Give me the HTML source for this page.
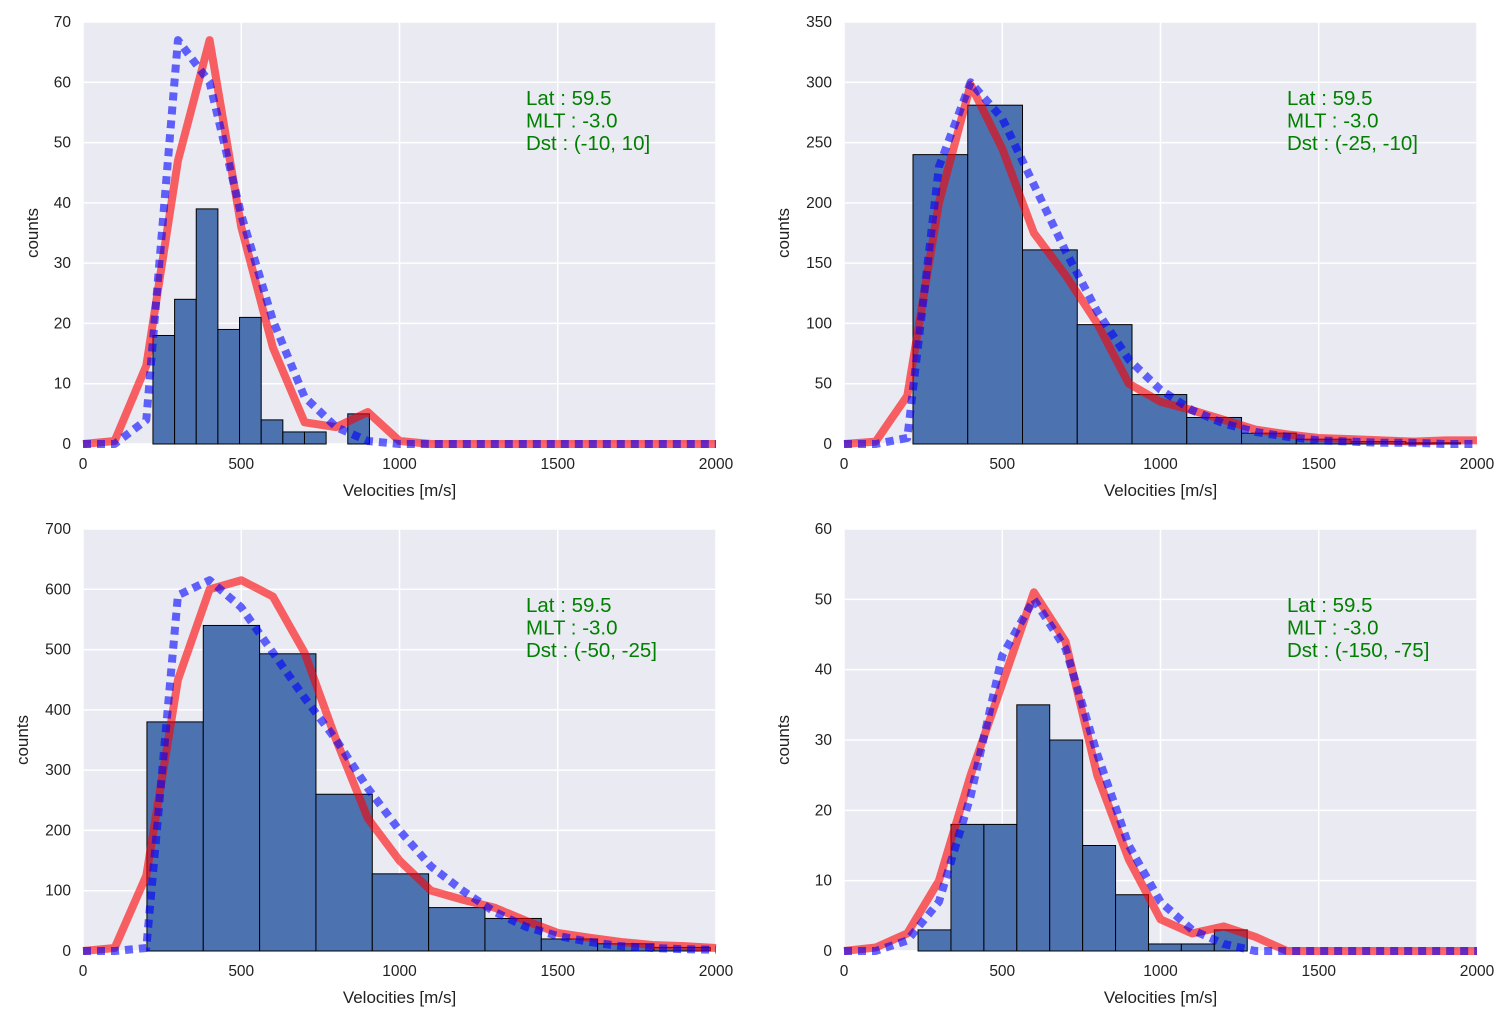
<!DOCTYPE html>
<html><head><meta charset="utf-8"><style>
body{margin:0;background:#fff;}
svg{display:block;font-family:"Liberation Sans",sans-serif;}
</style></head><body>
<svg id="c" width="1511" height="1023"></svg>
<script>
const xs=[0,100,200,300,400,500,600,700,800,900,1000,1100,1200,1300,1400,1500,1600,1700,1800,1900,2000];
const tlBinStart=221, tlBinWidth=68.4;
const tlCounts=[18,24,39,19,21,4,2,2,0,5];
const tlRed=[0,0.5,13,47,67,36,16,3.6,2.8,5.3,0.5,0,0,0,0,0,0,0,0,0,0];
const tlBlue=[0,0,4,67,60,38,20.5,7.8,2.8,0.5,0,0,0,0,0,0,0,0,0,0,0];
const trBinStart=218, trBinWidth=173;
const trCounts=[240,281,161,99,41,22,9,4,2,1];
const trRed=[0,2,40,200,298,245,175,140,100,50,35,28,20,12,8,5,4,3,2,3,3];
const trBlue=[0,0,5,230,300,270,215,160,110,70,45,28,17,10,6,3,2,1,1,0,0];
const blBinStart=202, blBinWidth=178;
const blCounts=[380,540,493,260,128,72,54,20,12,6];
const blRed=[0,5,125,450,600,615,588,495,350,220,150,100,85,72,50,30,22,15,10,8,5];
const blBlue=[0,0,5,590,615,570,495,420,350,270,200,140,100,65,40,25,15,8,5,3,2];
const brBinStart=234, brBinWidth=104;
const brCounts=[3,18,18,35,30,15,8,1,1,3];
const brRed=[0,0.5,2.5,10,25,38,51,44,25,13,4.5,2.5,3.5,2,0,0,0,0,0,0,0];
const brBlue=[0,0,1.5,7,22,42,50,43,28,15,7,3,1,0,0,0,0,0,0,0,0];
const xTicks=[0,500,1000,1500,2000];
const tlYTicks=[0,10,20,30,40,50,60,70];
const trYTicks=[0,50,100,150,200,250,300,350];
const blYTicks=[0,100,200,300,400,500,600,700];
const brYTicks=[0,10,20,30,40,50,60];
const dstLabels=["(-10, 10]","(-25, -10]","(-50, -25]","(-150, -75]"];

const NS="http://www.w3.org/2000/svg";
const svg=document.getElementById('c');
function mk(tag,attrs,parent){const e=document.createElementNS(NS,tag);for(const k in attrs)e.setAttribute(k,attrs[k]);(parent||svg).appendChild(e);return e;}

const panels=[
 {x0:83,y0:22,y1:444,ymax:70,bs:tlBinStart,bw:tlBinWidth,counts:tlCounts,red:tlRed,blue:tlBlue,yt:tlYTicks,ylx:38,tx:526,name:'top-left'},
 {x0:844,y0:22,y1:444,ymax:350,bs:trBinStart,bw:trBinWidth,counts:trCounts,red:trRed,blue:trBlue,yt:trYTicks,ylx:789,tx:1287,name:'top-right'},
 {x0:83,y0:529,y1:951,ymax:700,bs:blBinStart,bw:blBinWidth,counts:blCounts,red:blRed,blue:blBlue,yt:blYTicks,ylx:28,tx:526,name:'bottom-left'},
 {x0:844,y0:529,y1:951,ymax:60,bs:brBinStart,bw:brBinWidth,counts:brCounts,red:brRed,blue:brBlue,yt:brYTicks,ylx:789,tx:1287,name:'bottom-right'}
];
panels.forEach((p,pi)=>{
 const W=633;
 const X=v=>p.x0+v/2000*W;
 const Y=v=>p.y1-v/p.ymax*(p.y1-p.y0);
 const g=mk('g',{});
 
 
 const bg=mk('rect',{x:p.x0,y:p.y0,width:W,height:p.y1-p.y0,fill:'#EAEAF2'},g);
 
 
 xTicks.forEach(t=>{
  const l=mk('line',{x1:X(t),x2:X(t),y1:p.y0,y2:p.y1,stroke:'#fff','stroke-width':1.5},g);
  
  
  const tx=mk('text',{x:X(t),y:p.y1+25,'text-anchor':'middle','font-size':15.5,fill:'#222'},g);
  tx.textContent=t;
  
  
 });
 p.yt.forEach(t=>{
  const l=mk('line',{x1:p.x0,x2:p.x0+W,y1:Y(t),y2:Y(t),stroke:'#fff','stroke-width':1.5},g);
  
  
  const tx=mk('text',{x:p.x0-12,y:Y(t)+5,'text-anchor':'end','font-size':15.5,fill:'#222'},g);
  tx.textContent=t;
  
  
 });
 p.counts.forEach((c,i)=>{
  if(c<=0)return;
  const a=p.bs+i*p.bw;
  const r=mk('rect',{x:X(a),y:Y(c),width:X(a+p.bw)-X(a),height:p.y1-Y(c),fill:'#4C72B0',stroke:'#000','stroke-width':1},g);
  
  
 });
 const rp=xs.map((x,i)=>X(x)+','+Y(p.red[i])).join(' ');
 const red=mk('polyline',{points:rp,fill:'none',stroke:'#ff0000','stroke-opacity':0.6,'stroke-width':8,'stroke-linejoin':'round'},g);
 
 
 const bp=xs.map((x,i)=>X(x)+','+Y(p.blue[i])).join(' ');
 const blue=mk('polyline',{points:bp,fill:'none',stroke:'#0000ff','stroke-opacity':0.6,'stroke-width':8,'stroke-dasharray':'8 6','stroke-linejoin':'round'},g);
 
 
 const xl=mk('text',{x:p.x0+W/2,y:p.y1+52,'text-anchor':'middle','font-size':17,fill:'#222'},g);
 xl.textContent='Velocities [m/s]';
 
 
 const cy=(p.y0+p.y1)/2;
 const yl=mk('text',{x:p.ylx,y:cy,'text-anchor':'middle','font-size':17,fill:'#222',transform:`rotate(-90 ${p.ylx} ${cy})`},g);
 yl.textContent='counts';
 
 
 const lines=['Lat : 59.5','MLT : -3.0','Dst : '+dstLabels[pi]];
 lines.forEach((s,i)=>{
  const t=mk('text',{x:p.tx,y:p.y0+83+i*22.5,'font-size':20.5,fill:'#008000'},g);
  t.textContent=s;
  
  
 });
});
</script>
</body></html>
